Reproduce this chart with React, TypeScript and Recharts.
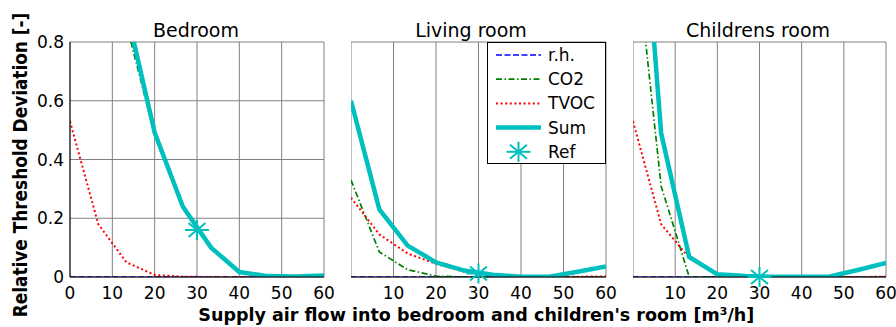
import React from 'react';
import { ComposedChart, Line, Scatter, XAxis, YAxis, CartesianGrid, Legend } from 'recharts';

// ---------- data ----------
const flow = [0, 6.67, 13.33, 20, 26.67, 33.33, 40, 46.67, 53.33, 60];
const xTicks = [0, 10, 20, 30, 40, 50, 60];
const yTicks = [0, 0.2, 0.4, 0.6, 0.8];
const panelTitles = ['Bedroom', 'Living room', 'Childrens room'];

const bedRh = [0, 0, 0, 0, 0, 0, 0, 0, 0, 0];
const bedCo2 = [3.6, 1.9, 0.86, 0.485, 0.238, 0.1, 0.017, 0.003, 0.002, 0.005];
const bedTvoc = [0.53, 0.18, 0.05, 0.007, 0.001, 0, 0, 0, 0, 0];
const bedSum = [4.13, 2.08, 0.91, 0.492, 0.239, 0.1, 0.017, 0.003, 0.002, 0.005];

const livRh = [0, 0, 0, 0, 0, 0, 0, 0, 0, 0];
const livCo2 = [0.33, 0.085, 0.025, 0.003, 0, 0, 0, 0, 0, 0];
const livTvoc = [0.27, 0.145, 0.08, 0.045, 0.018, 0.005, 0.001, 0, 0.001, 0.002];
const livSum = [0.6, 0.23, 0.107, 0.05, 0.022, 0.008, 0.001, 0.001, 0.018, 0.036];

const chiRh = [0, 0, 0, 0, 0, 0, 0, 0, 0, 0];
const chiCo2 = [1.2, 0.31, 0, 0, 0, 0, 0, 0, 0, 0];
const chiTvoc = [0.53, 0.18, 0.065, 0.008, 0, 0, 0, 0, 0, 0.001];
const chiSum = [1.73, 0.49, 0.068, 0.009, 0.003, 0.001, 0.001, 0.002, 0.024, 0.048];

const refFlow = 30;
const bedRef = 0.16;
const livRef = 0.012;
const chiRef = 0.0;

// ---------- styles ----------
const FONT = 'DejaVu Sans';
const CYAN = '#00bfbf';
const SERIES = [
  { key: 'rh', name: 'r.h.', color: '#0000ff', width: 1.7, dash: '6 2.5' },
  { key: 'co2', name: 'CO2', color: '#008000', width: 1.7, dash: '6 2.5 1.5 2.5' },
  { key: 'tvoc', name: 'TVOC', color: '#ff0000', width: 2, dash: '2 2.6' },
  { key: 'sum', name: 'Sum', color: CYAN, width: 4.5, dash: undefined as string | undefined },
];

const buildRows = (rh: number[], co2: number[], tvoc: number[], sum: number[]) =>
  flow.map((x, i) => ({ x, rh: rh[i], co2: co2[i], tvoc: tvoc[i], sum: sum[i] }));

const Asterisk = (props: any) => {
  const { cx, cy } = props;
  if (cx == null || cy == null) return null;
  return (
    <g stroke={CYAN} strokeWidth={2} strokeLinecap="butt">
      <line x1={cx - 12} y1={cy} x2={cx + 12} y2={cy} />
      <line x1={cx} y1={cy - 10} x2={cx} y2={cy + 10} />
      <line x1={cx - 8.5} y1={cy - 7} x2={cx + 8.5} y2={cy + 7} />
      <line x1={cx - 8.5} y1={cy + 7} x2={cx + 8.5} y2={cy - 7} />
    </g>
  );
};

const LegendBox = () => {
  const rowsY = [13, 37.2, 61.4, 85.6, 109.8];
  return (
    <svg width={119} height={122} style={{ display: 'block' }}>
      <rect x={0.5} y={0.5} width={118} height={121} fill="#fff" stroke="#000" strokeWidth={1} />
      {SERIES.map((s, i) => (
        <g key={s.key}>
          <line x1={9} x2={54} y1={rowsY[i]} y2={rowsY[i]} stroke={s.color} strokeWidth={s.width} strokeDasharray={s.dash} />
          <text x={61} y={rowsY[i]} dominantBaseline="central" fontFamily={FONT} fontSize={17} fill="#000">{s.name}</text>
        </g>
      ))}
      <Asterisk cx={31.5} cy={rowsY[4]} />
      <text x={61} y={rowsY[4]} dominantBaseline="central" fontFamily={FONT} fontSize={17} fill="#000">Ref</text>
    </svg>
  );
};

type PanelProps = {
  rows: any[];
  refValue: number;
  left: number;
  width: number;
  yAxisWidth: number;
  marginRight: number;
  showYTicks: boolean;
  hideZeroX: boolean;
  legend?: boolean;
};

const Panel = ({ rows, refValue, left, width, yAxisWidth, marginRight, showYTicks, hideZeroX, legend }: PanelProps) => {
  const tickStyle = { fill: '#000', fontSize: 17, fontFamily: FONT };
  return (
    <div style={{ position: 'absolute', left, top: 0 }}>
      <ComposedChart
        width={width}
        height={327}
        data={rows}
        margin={{ top: 42, right: marginRight, left: 0, bottom: 0 }}
      >
        <CartesianGrid stroke="#808080" strokeWidth={1} />
        <XAxis
          dataKey="x"
          type="number"
          domain={[0, 60]}
          ticks={xTicks}
          interval={0}
          allowDataOverflow
          height={50}
          tickSize={0}
          tickMargin={10}
          axisLine={{ stroke: '#000' }}
          tick={tickStyle}
          tickFormatter={(v: number) => (hideZeroX && v === 0 ? '' : String(v))}
        />
        <XAxis xAxisId="top" orientation="top" type="number" domain={[0, 60]} height={0} tick={false} tickLine={false} axisLine={{ stroke: '#000' }} />
        <YAxis
          type="number"
          domain={[0, 0.8]}
          ticks={yTicks}
          interval={0}
          allowDataOverflow
          width={yAxisWidth}
          tickSize={0}
          tickMargin={6}
          axisLine={{ stroke: '#000' }}
          tick={showYTicks ? tickStyle : false}
          tickFormatter={(v: number) => (v === 0 ? '0' : v.toFixed(1))}
        />
        <YAxis yAxisId="right" orientation="right" type="number" domain={[0, 0.8]} width={0} tick={false} tickLine={false} axisLine={{ stroke: '#000' }} />
        <YAxis yAxisId="ref" type="number" domain={[0, 0.8]} hide />
        {SERIES.map((s) => (
          <Line
            key={s.key}
            dataKey={s.key}
            name={s.name}
            type="linear"
            stroke={s.color}
            strokeWidth={s.width}
            strokeDasharray={s.dash}
            dot={false}
            activeDot={false}
            isAnimationActive={false}
          />
        ))}
        <Scatter
          yAxisId="ref"
          name="Ref"
          data={[{ x: refFlow, ref: refValue }]}
          dataKey="ref"
          shape={Asterisk}
          isAnimationActive={false}
        />
        {legend ? (
          <Legend
            layout="vertical"
            align="center"
            verticalAlign="middle"
            wrapperStyle={{ position: 'absolute', left: width - marginRight - 119, top: 42, width: 119, height: 122 }}
            content={() => <LegendBox />}
          />
        ) : null}
      </ComposedChart>
    </div>
  );
};

export default function App() {
  return (
    <div style={{ position: 'absolute', left: 0, top: 0, width: 896, height: 327, background: '#fff', overflow: 'hidden' }}>
      <Panel rows={buildRows(bedRh, bedCo2, bedTvoc, bedSum)} refValue={bedRef} left={0} width={346} yAxisWidth={70} marginRight={22} showYTicks hideZeroX={false} />
      <Panel rows={buildRows(livRh, livCo2, livTvoc, livSum)} refValue={livRef} left={351} width={276} yAxisWidth={0} marginRight={21} showYTicks={false} hideZeroX legend />
      <Panel rows={buildRows(chiRh, chiCo2, chiTvoc, chiSum)} refValue={chiRef} left={633} width={274} yAxisWidth={0} marginRight={21} showYTicks={false} hideZeroX />
      <svg width={896} height={327} style={{ position: 'absolute', left: 0, top: 0, pointerEvents: 'none' }}>
        <text x={196} y={37} textAnchor="middle" fontFamily={FONT} fontSize={19} fill="#000">{panelTitles[0]}</text>
        <text x={471} y={37} textAnchor="middle" fontFamily={FONT} fontSize={19} fill="#000">{panelTitles[1]}</text>
        <text x={758} y={37} textAnchor="middle" fontFamily={FONT} fontSize={19} fill="#000">{panelTitles[2]}</text>
        <text x={198.3} y={321} fontFamily={FONT} fontWeight="bold" fontSize={18.5} fill="#000" textLength={556} lengthAdjust="spacingAndGlyphs">
          Supply air flow into bedroom and children's room [m³/h]
        </text>
        <text x={0} y={0} transform="translate(27,317.3) rotate(-90)" fontFamily={FONT} fontWeight="bold" fontSize={19} fill="#000" textLength={304.6} lengthAdjust="spacingAndGlyphs">
          Relative Threshold Deviation [-]
        </text>
      </svg>
    </div>
  );
}
